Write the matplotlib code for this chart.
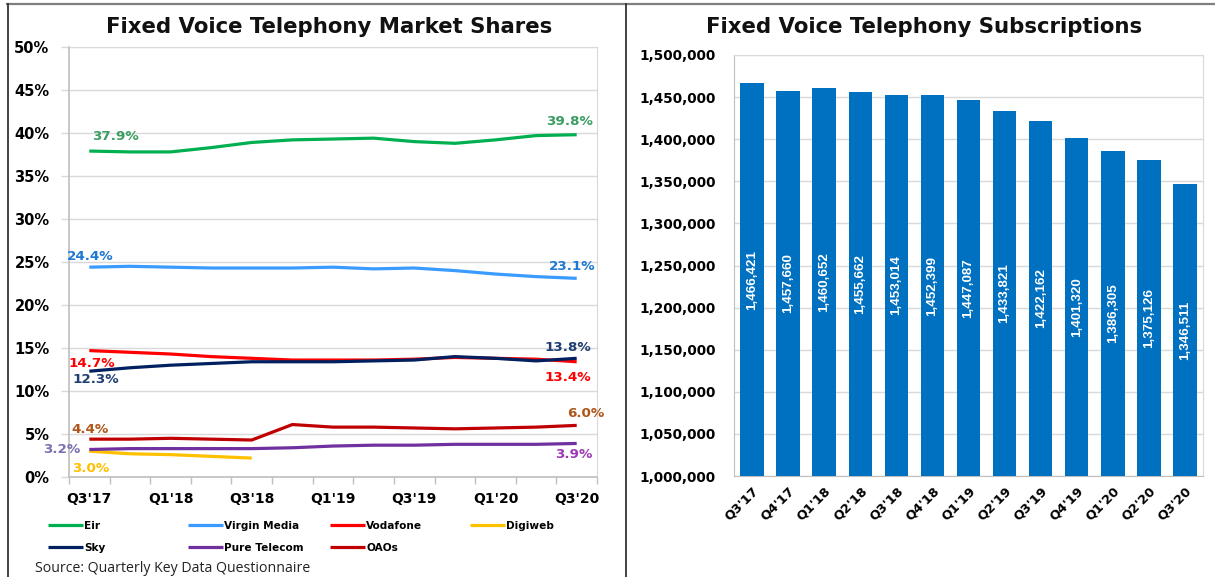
import matplotlib
matplotlib.use("Agg")
import matplotlib.pyplot as plt
from matplotlib.lines import Line2D
import numpy as np

# ---------------- data ----------------
quarters = ["Q3'17", "Q4'17", "Q1'18", "Q2'18", "Q3'18", "Q4'18", "Q1'19",
            "Q2'19", "Q3'19", "Q4'19", "Q1'20", "Q2'20", "Q3'20"]

eir = [37.9, 37.8, 37.8, 38.3, 38.9, 39.2, 39.3, 39.4, 39.0, 38.8, 39.2, 39.7, 39.8]
virgin = [24.4, 24.5, 24.4, 24.3, 24.3, 24.3, 24.4, 24.2, 24.3, 24.0, 23.6, 23.3, 23.1]
vodafone = [14.7, 14.5, 14.3, 14.0, 13.8, 13.6, 13.6, 13.6, 13.7, 13.9, 13.8, 13.7, 13.4]
digiweb = [3.0, 2.7, 2.6, 2.4, 2.2, None, None, None, None, None, None, None, None]
sky = [12.3, 12.7, 13.0, 13.2, 13.4, 13.4, 13.4, 13.5, 13.6, 14.0, 13.8, 13.5, 13.8]
pure = [3.2, 3.3, 3.3, 3.3, 3.3, 3.4, 3.6, 3.7, 3.7, 3.8, 3.8, 3.8, 3.9]
oaos = [4.4, 4.4, 4.5, 4.4, 4.3, 6.1, 5.8, 5.8, 5.7, 5.6, 5.7, 5.8, 6.0]

subscriptions = [1466421, 1457660, 1460652, 1455662, 1453014, 1452399, 1447087,
                 1433821, 1422162, 1401320, 1386305, 1375126, 1346511]

share_ticks = [0, 5, 10, 15, 20, 25, 30, 35, 40, 45, 50]
sub_ticks = [1000000, 1050000, 1100000, 1150000, 1200000, 1250000,
             1300000, 1350000, 1400000, 1450000, 1500000]

# ---------------- figure ----------------
W, H = 1215, 577
fig = plt.figure(figsize=(W / 100, H / 100), dpi=100)
fig.patch.set_facecolor("white")

BOLD = dict(family="DejaVu Sans", fontweight="bold")
GRID = "#D9D9D9"
AXC = "#BFBFBF"

def fx(px):
    return px / W

def fy(py):
    return 1 - py / H

# ---------------- left: market shares ----------------
axL = fig.add_axes([fx(69), fy(477), fx(597) - fx(69), fy(47) - fy(477)])
x = np.arange(len(quarters))

series = [
    ("Eir", eir, "#00B050"),
    ("Virgin Media", virgin, "#3A9BFF"),
    ("Vodafone", vodafone, "#FF0000"),
    ("Digiweb", digiweb, "#FFC000"),
    ("Sky", sky, "#002060"),
    ("Pure Telecom", pure, "#7030A0"),
    ("OAOs", oaos, "#C00000"),
]
handles = {}
for name, vals, col in series:
    v = np.array([np.nan if a is None else a for a in vals], dtype=float)
    ln, = axL.plot(x, v, color=col, lw=2.3, solid_capstyle="butt", zorder=3)
    handles[name] = ln

axL.set_xlim(-0.5, len(quarters) - 0.5)
axL.set_ylim(0, 50)
axL.set_yticks(share_ticks)
axL.set_yticklabels([f"{t}%" for t in share_ticks], fontsize=10.5, **BOLD)
axL.set_xticks(x[::2])
axL.set_xticklabels(quarters[::2], fontsize=10, **BOLD)
axL.set_xticks(np.arange(-0.5, len(quarters), 1), minor=True)
axL.tick_params(axis="x", which="major", length=0, pad=11)
axL.tick_params(axis="x", which="minor", length=5, color=AXC, width=1)
axL.tick_params(axis="y", which="major", length=6, color=GRID, width=1, pad=8)
axL.grid(axis="y", color=GRID, lw=1)
axL.set_axisbelow(True)
for s in ["top", "right"]:
    axL.spines[s].set_color(GRID)
for s in ["left", "bottom"]:
    axL.spines[s].set_color(AXC)
    axL.spines[s].set_linewidth(1.2)

def lab(ax, xi, yv, text, color, dx, dy, ha="center"):
    ax.annotate(text, (xi, yv), xytext=(dx, dy), textcoords="offset pixels",
                ha=ha, va="center", color=color, fontsize=9.7, **BOLD, zorder=5)

last = len(quarters) - 1
lab(axL, 0, eir[0], "37.9%", "#3A9E62", 26, 15)
lab(axL, last, eir[-1], "39.8%", "#3A9E62", -7, 13)
lab(axL, 0, virgin[0], "24.4%", "#1F78D1", 1, 11)
lab(axL, last, virgin[-1], "23.1%", "#1F78D1", -5, 12)
lab(axL, 0, vodafone[0], "14.7%", "#FF0000", 2, -13)
lab(axL, 0, sky[0], "12.3%", "#1F3F73", 6, -8)
lab(axL, last, sky[-1], "13.8%", "#1F3F73", -9, 11)
lab(axL, last, vodafone[-1], "13.4%", "#FF0000", -9, -16)
lab(axL, 0, oaos[0], "4.4%", "#B0561A", 1, 10)
lab(axL, last, oaos[-1], "6.0%", "#B0561A", 9, 12)
lab(axL, 0, pure[0], "3.2%", "#7A71B0", -9, 0, ha="right")
lab(axL, 0, digiweb[0], "3.0%", "#FFC000", 1, -17)
lab(axL, last, pure[-1], "3.9%", "#9B3BB5", -3, -11)

# legend: four columns of fixed width
cols = [("Eir", "Sky"), ("Virgin Media", "Pure Telecom"), ("Vodafone", "OAOs"), ("Digiweb",)]
col_x = [48, 188, 330, 470]
for names, cx in zip(cols, col_x):
    leg = fig.legend([handles[n] for n in names], list(names), loc="upper left",
                     bbox_to_anchor=(fx(cx), fy(521)), frameon=False,
                     borderpad=0, borderaxespad=0, handlelength=3.3,
                     handletextpad=0.15, labelspacing=1.15,
                     prop=dict(family="DejaVu Sans", weight="bold", size=7.6))

fig.text(fx(35), fy(576), "Source: Quarterly Key Data Questionnaire",
         ha="left", va="bottom", fontsize=10.2, family="Open Sans", color="#222222")

fig.text(fx(329), fy(27), "Fixed Voice Telephony Market Shares", ha="center",
         va="center", fontsize=15.3, **BOLD, color="#111111")

# ---------------- right: subscriptions ----------------
axR = fig.add_axes([fx(734), fy(476), fx(1203) - fx(734), fy(55) - fy(476)])
base = sub_ticks[0]
heights = [v - base for v in subscriptions]
bars = axR.bar(x, heights, bottom=base, width=0.65, color="#0070C0", zorder=3)
axR.set_xlim(-0.5, len(quarters) - 0.5)
axR.set_ylim(sub_ticks[0], sub_ticks[-1])
axR.set_yticks(sub_ticks)
axR.set_yticklabels([f"{t:,}" for t in sub_ticks], fontsize=9.8, **BOLD)
axR.tick_params(axis="y", length=0, pad=13)
axR.set_xticks(x)
axR.set_xticklabels(quarters, rotation=45, ha="right", va="top",
                    rotation_mode="anchor", fontsize=9.3, **BOLD)
axR.tick_params(axis="x", length=0, pad=6)
axR.grid(axis="y", color=GRID, lw=1)
axR.set_axisbelow(True)
for s in axR.spines.values():
    s.set_color(GRID)
axR.spines["bottom"].set_color(AXC)
axR.spines["left"].set_color(AXC)
for xi, v in zip(x, subscriptions):
    axR.text(xi, (base + v) / 2, f"{v:,}", rotation=90, ha="center", va="center",
             color="white", fontsize=9.6, family=["Liberation Sans", "DejaVu Sans"],
             fontweight="bold", zorder=4)

fig.text(fx(924), fy(27), "Fixed Voice Telephony Subscriptions", ha="center",
         va="center", fontsize=15.3, **BOLD, color="#111111")

# ---------------- panel frame lines ----------------
fig.add_artist(Line2D([fx(7), 1], [fy(3.5), fy(3.5)], color="#7F7F7F", lw=1.6))
fig.add_artist(Line2D([fx(8), fx(8)], [0, fy(3.5)], color="#333333", lw=1.3))
fig.add_artist(Line2D([fx(626), fx(626)], [0, fy(3.5)], color="#333333", lw=1.3))

fig.savefig("out.png", dpi=100)
